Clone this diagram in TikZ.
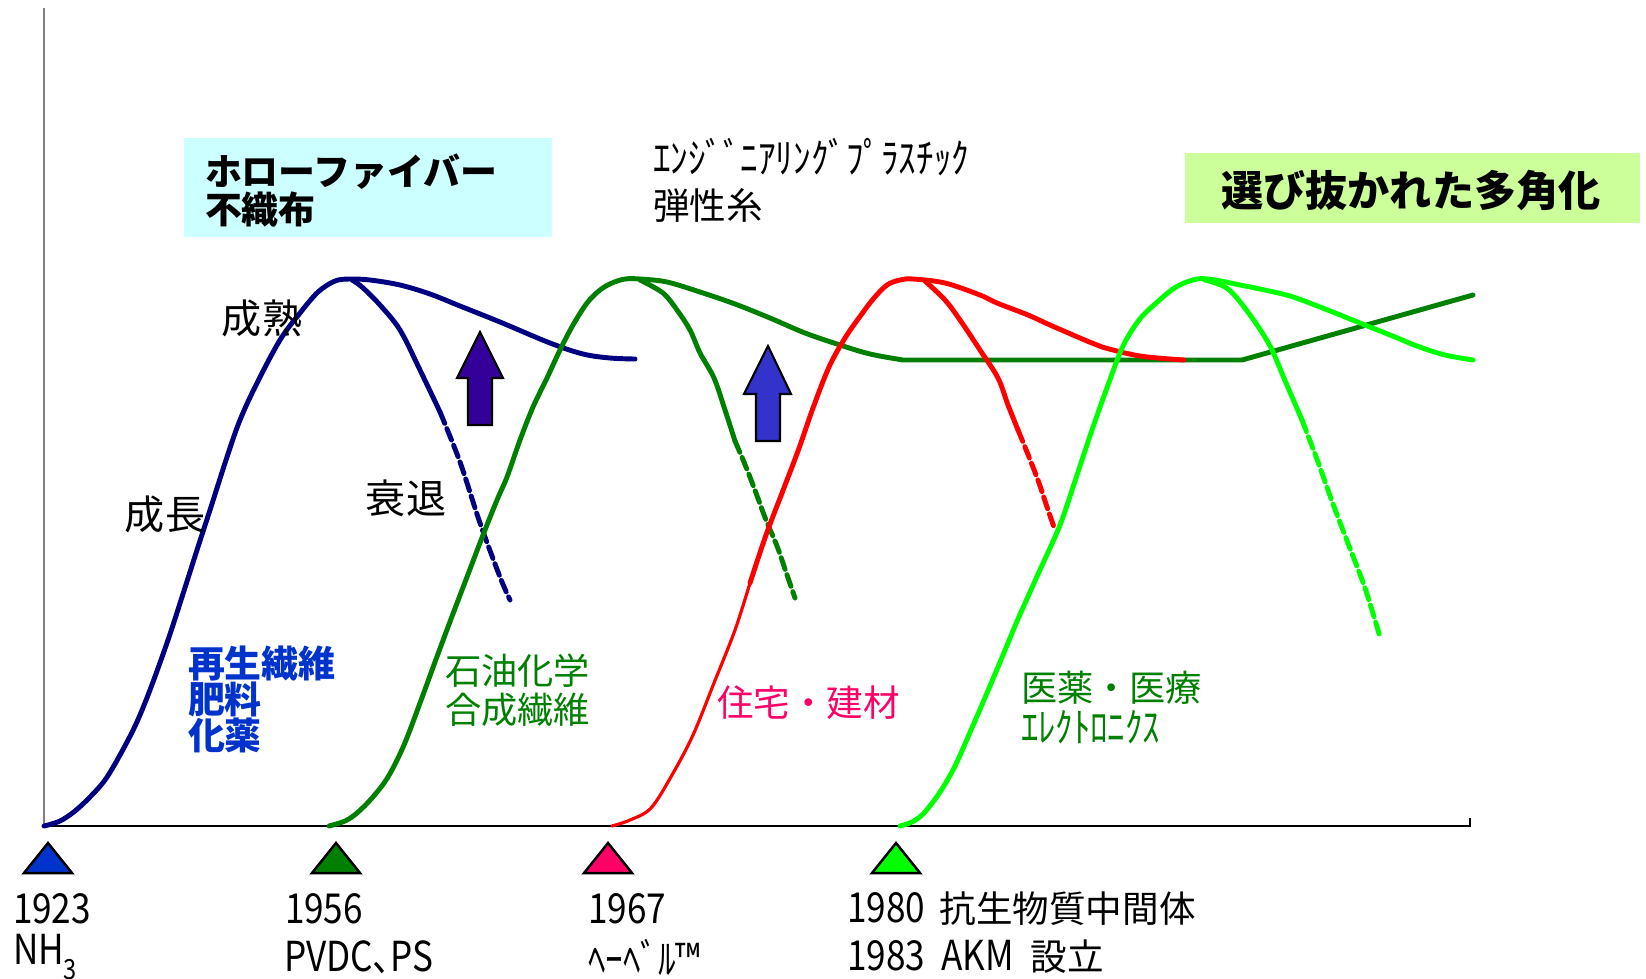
\documentclass[tikz,border=0pt]{standalone}
\usepackage{fontspec}
\setmainfont{Noto Sans CJK JP}
\newfontfamily\hw[FakeStretch=0.85,Scale=1.13]{Noto Sans CJK JP}
\newcommand\fsz[1]{\fontsize{#1}{#1}\selectfont}
\definecolor{navyc}{HTML}{000080}
\definecolor{dgreen}{HTML}{008000}
\definecolor{limec}{HTML}{00FF00}
\definecolor{redc}{HTML}{FF0000}
\definecolor{pinkc}{HTML}{FF0066}
\definecolor{bluet}{HTML}{0033CC}
\definecolor{cyanbox}{HTML}{CCFFFF}
\definecolor{greenbox}{HTML}{CCFF99}
\definecolor{violetc}{HTML}{330099}
\definecolor{bluearrow}{HTML}{3333CC}
\definecolor{axisgray}{HTML}{808080}
\tikzset{
  curve/.style={line width=1.4pt, line join=round, line cap=round},
  thincurve/.style={line width=0.9pt, line join=round, line cap=round},
  dsh/.style={dash pattern=on 3.5pt off 1.6pt},
  lbl/.style={anchor=west, inner sep=0pt, outer sep=0pt},
  yr/.style={lbl, font=\fsz{10.4pt}},
  tri/.style={draw=black, line width=0.7pt, line join=miter},
  blockarrow/.style={draw=black, line width=0.6pt, line join=miter},
}
\begin{document}
\begin{tikzpicture}[x=0.01cm,y=-0.01cm]
\useasboundingbox (0,0) rectangle (1646,978);
% boxes
\fill[cyanbox] (184,138) rectangle (552,237);
\fill[greenbox] (1185,153) rectangle (1640,223);
% axes
\draw[axisgray, line width=0.85pt] (44,8) -- (44,826);
\draw[black, line width=0.6pt] (44,826) -- (1470,826) -- (1470,818);
% blue curve
\draw[curve, navyc] plot[smooth, tension=0.55] coordinates {(44,826) (60,821) (75,811) (90,797) (105,780) (120,755) (136,724) (150,690) (168,640) (182,597) (197,550) (210,510) (227,457) (240,420) (257,383) (280,340) (300,313) (318,292) (335,281) (350,279) (370,280) (400,285) (430,294) (460,306) (500,322) (550,343) (583,354) (610,358) (635,359)};
\draw[curve, navyc] plot[smooth, tension=0.55] coordinates {(352,280) (362,287) (380,305) (400,330) (420,370) (440,412)};
\draw[curve, navyc, dsh] plot[smooth, tension=0.55] coordinates {(440,412) (460,462) (480,523) (500,577) (510,600)};
% dark green curve
\draw[curve, dgreen] plot[smooth, tension=0.55] coordinates {(329,826) (345,821) (357,813) (372,798) (388,777) (404,745) (420,703) (435,662) (451,619) (467,577) (483,535) (497,500) (507,477) (520,440) (533,407) (547,378) (560,350) (573,325) (587,303) (600,290) (612,283) (625,279) (640,279) (667,282) (700,292) (735,304) (770,318) (805,333) (840,345) (870,354) (903,360)} -- (1242,360) -- (1473,295);
\draw[curve, dgreen] plot[smooth, tension=0.55] coordinates {(640,280) (663,293) (677,310) (690,330) (700,353) (714,378) (725,410) (735,441)};
\draw[curve, dgreen, dsh] plot[smooth, tension=0.55] coordinates {(735,441) (746,467) (756,493) (766,520) (777,546) (786,572) (795,598)};
% red curve
\draw[thincurve, redc] plot[smooth, tension=0.55] coordinates {(612,826) (630,820) (651,808) (672,775) (693,735) (714,683) (735,630) (750,583)};
\draw[curve, redc] plot[smooth, tension=0.55] coordinates {(750,583) (766,535) (782,493) (798,451) (813,408) (829,367) (845,338) (861,315) (874,298) (887,285) (900,280) (913,279) (945,283) (980,295) (997,303) (1028,315) (1050,325) (1087,341) (1102,347) (1140,356) (1184,360)};
\draw[curve, redc] plot[smooth, tension=0.55] coordinates {(925,281) (945,300) (960,320) (980,350) (998,378) (1008,405) (1018,430)};
\draw[curve, redc, dsh] plot[smooth, tension=0.55] coordinates {(1018,430) (1029,457) (1039,483) (1047,507) (1055,530)};
% lime curve
\draw[curve, limec] plot[smooth, tension=0.55] coordinates {(900,826) (912,822) (924,813) (940,792) (955,766) (971,730) (987,693) (1003,655) (1018,619) (1039,572) (1060,525) (1076,478) (1092,430) (1108,385) (1123,346) (1139,320) (1155,304) (1176,287) (1197,279) (1215,280) (1240,285) (1260,289) (1290,296) (1320,307) (1365,325) (1395,337) (1417,346) (1445,355) (1473,360)};
\draw[curve, limec] plot[smooth, tension=0.55] coordinates {(1205,280) (1228,289) (1250,315) (1270,346) (1286,383) (1302,420)};
\draw[curve, limec, dsh] plot[smooth, tension=0.55] coordinates {(1302,420) (1318,462) (1333,504) (1349,546) (1365,588) (1380,637)};
% block arrows
\filldraw[blockarrow, fill=violetc] (480,332) -- (503,378) -- (492,378) -- (492,425) -- (468,425) -- (468,378) -- (457,378) -- cycle;
\filldraw[blockarrow, fill=bluearrow] (768,346) -- (791,394) -- (780,394) -- (780,441) -- (756,441) -- (756,394) -- (744,394) -- cycle;
% triangles
\filldraw[tri, fill=bluet] (24,873) -- (48,843) -- (72,873) -- cycle;
\filldraw[tri, fill=dgreen] (312,873) -- (336,843) -- (360,873) -- cycle;
\filldraw[tri, fill=pinkc] (584,873) -- (608,843) -- (632,873) -- cycle;
\filldraw[tri, fill=limec] (872,873) -- (896,843) -- (920,873) -- cycle;
% box texts
\node[lbl, font=\fsz{10.5pt}\bfseries] (hollow1) at (205,172) {ホローファイバー};
\node[lbl, font=\fsz{10.5pt}\bfseries] (hollow2) at (205,210) {不織布};
\node[anchor=center, inner sep=0pt, font=\fsz{12pt}\bfseries] (select) at (1411,190) {選び抜かれた多角化};
% top middle texts
\node[lbl, font=\fsz{10.4pt}] (eng) at (653,157) {{\hw ｴﾝｼﾞﾞﾆｱﾘﾝｸﾞﾌﾟﾗｽﾁｯｸ}};
\node[lbl, font=\fsz{10.4pt}] (dansei) at (653,205) {弾性糸};
% stage labels
\node[anchor=center, inner sep=0pt, font=\fsz{11.4pt}] (seijuku) at (262,318) {成熟};
\node[anchor=center, inner sep=0pt, font=\fsz{11.4pt}] (seicho) at (165,514) {成長};
\node[anchor=center, inner sep=0pt, font=\fsz{11.4pt}] (suitai) at (406,498) {衰退};
% category labels
\node[lbl, font=\fsz{10.5pt}\bfseries, text=bluet] (c1a) at (188,663) {再生繊維};
\node[lbl, font=\fsz{10.5pt}\bfseries, text=bluet] (c1b) at (188,699) {肥料};
\node[lbl, font=\fsz{10.5pt}\bfseries, text=bluet] (c1c) at (188,735) {化薬};
\node[lbl, font=\fsz{10.3pt}, text=dgreen] (c2a) at (445,671) {石油化学};
\node[lbl, font=\fsz{10.3pt}, text=dgreen] (c2b) at (445,710) {合成繊維};
\node[lbl, font=\fsz{10.4pt}, text=pinkc] (c3) at (717,703) {住宅・建材};
\node[lbl, font=\fsz{10.3pt}, text=dgreen] (c4a) at (1021,688) {医薬・医療};
\node[lbl, font=\fsz{10.3pt}, text=dgreen] (c4b) at (1021,727) {{\hw ｴﾚｸﾄﾛﾆｸｽ}};
% years
\node[yr] (y1923) at (13,909) {{\hw 1923}};
\node[yr] (n1923) at (13,957) {{\hw NH\raisebox{-0.35em}{\fsz{7pt}3}}};
\node[yr] (y1956) at (285,909) {{\hw 1956}};
\node[yr] (n1956) at (284,957) {{\hw PVDC､PS}};
\node[yr] (y1967) at (588,909) {{\hw 1967}};
\node[yr] (n1967) at (588,957) {{\hw ﾍｰﾍﾞﾙ™}};
\node[yr] (y1980) at (847,909) {{\hw 1980}\hspace{0.4em}抗生物質中間体};
\node[yr] (y1983) at (847,957) {{\hw 1983}\hspace{0.45em}{\hw AKM}\hspace{0.45em}設立};
\end{tikzpicture}
\end{document}
